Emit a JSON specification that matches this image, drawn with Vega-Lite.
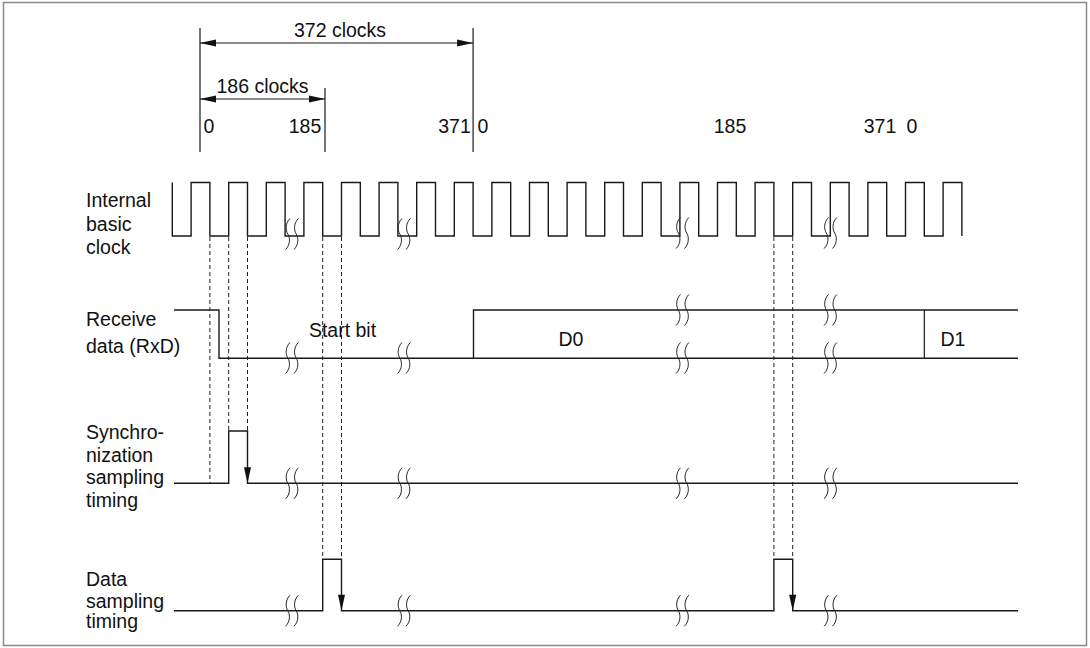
{
  "$schema": "https://vega.github.io/schema/vega-lite/v6.json",
  "width": 1090,
  "height": 648,
  "autosize": {"type": "fit", "contains": "padding"},
  "padding": 0,
  "background": "white",
  "config": {"view": {"stroke": null}},
  "datasets": {
    "frame": [{"x": 3.5, "y": 2.5, "x2": 1086.5, "y2": 645.5}],
    "rules": [
      {"x": 200, "y": 28, "x2": 200, "y2": 152},
      {"x": 325, "y": 88, "x2": 325, "y2": 152},
      {"x": 473.1, "y": 28, "x2": 473.1, "y2": 152},
      {"x": 200, "y": 43, "x2": 473.1, "y2": 43},
      {"x": 200, "y": 99, "x2": 325, "y2": 99},
      {"x": 924.3, "y": 310, "x2": 924.3, "y2": 358.3}
    ],
    "dashed": [
      {"x": 209.9, "y": 237, "x2": 209.9, "y2": 483.3},
      {"x": 228.7, "y": 237, "x2": 228.7, "y2": 431},
      {"x": 247.5, "y": 237, "x2": 247.5, "y2": 431},
      {"x": 322.7, "y": 237, "x2": 322.7, "y2": 559.3},
      {"x": 341.5, "y": 237, "x2": 341.5, "y2": 559.3},
      {"x": 773.9, "y": 237, "x2": 773.9, "y2": 559.3},
      {"x": 792.7, "y": 237, "x2": 792.7, "y2": 559.3}
    ],
    "paths": [
      {"s": "rx1", "i": 0, "x": 174, "y": 310},
      {"s": "rx1", "i": 1, "x": 219, "y": 310},
      {"s": "rx1", "i": 2, "x": 219, "y": 358.3},
      {"s": "rx1", "i": 3, "x": 1018, "y": 358.3},
      {"s": "rx2", "i": 0, "x": 473.5, "y": 358.3},
      {"s": "rx2", "i": 1, "x": 473.5, "y": 310},
      {"s": "rx2", "i": 2, "x": 1018, "y": 310},
      {"s": "sy", "i": 0, "x": 174, "y": 483.3},
      {"s": "sy", "i": 1, "x": 228.7, "y": 483.3},
      {"s": "sy", "i": 2, "x": 228.7, "y": 431},
      {"s": "sy", "i": 3, "x": 247.5, "y": 431},
      {"s": "sy", "i": 4, "x": 247.5, "y": 483.3},
      {"s": "sy", "i": 5, "x": 1018, "y": 483.3},
      {"s": "da", "i": 0, "x": 174, "y": 610.7},
      {"s": "da", "i": 1, "x": 322.7, "y": 610.7},
      {"s": "da", "i": 2, "x": 322.7, "y": 559.3},
      {"s": "da", "i": 3, "x": 341.5, "y": 559.3},
      {"s": "da", "i": 4, "x": 341.5, "y": 610.7},
      {"s": "da", "i": 5, "x": 773.9, "y": 610.7},
      {"s": "da", "i": 6, "x": 773.9, "y": 559.3},
      {"s": "da", "i": 7, "x": 792.7, "y": 559.3},
      {"s": "da", "i": 8, "x": 792.7, "y": 610.7},
      {"s": "da", "i": 9, "x": 1018, "y": 610.7}
    ],
    "clock": [
      {"i": 0, "x": 172.3, "y": 182.5},
      {"i": 1, "x": 172.3, "y": 236},
      {"i": 2, "x": 191.1, "y": 182.5},
      {"i": 3, "x": 209.9, "y": 236},
      {"i": 4, "x": 228.7, "y": 182.5},
      {"i": 5, "x": 247.5, "y": 236},
      {"i": 6, "x": 266.3, "y": 182.5},
      {"i": 7, "x": 285.1, "y": 236},
      {"i": 8, "x": 303.9, "y": 182.5},
      {"i": 9, "x": 322.7, "y": 236},
      {"i": 10, "x": 341.5, "y": 182.5},
      {"i": 11, "x": 360.3, "y": 236},
      {"i": 12, "x": 379.1, "y": 182.5},
      {"i": 13, "x": 397.9, "y": 236},
      {"i": 14, "x": 416.7, "y": 182.5},
      {"i": 15, "x": 435.5, "y": 236},
      {"i": 16, "x": 454.3, "y": 182.5},
      {"i": 17, "x": 473.1, "y": 236},
      {"i": 18, "x": 491.9, "y": 182.5},
      {"i": 19, "x": 510.7, "y": 236},
      {"i": 20, "x": 529.5, "y": 182.5},
      {"i": 21, "x": 548.3, "y": 236},
      {"i": 22, "x": 567.1, "y": 182.5},
      {"i": 23, "x": 585.9, "y": 236},
      {"i": 24, "x": 604.7, "y": 182.5},
      {"i": 25, "x": 623.5, "y": 236},
      {"i": 26, "x": 642.3, "y": 182.5},
      {"i": 27, "x": 661.1, "y": 236},
      {"i": 28, "x": 679.9, "y": 182.5},
      {"i": 29, "x": 698.7, "y": 236},
      {"i": 30, "x": 717.5, "y": 182.5},
      {"i": 31, "x": 736.3, "y": 236},
      {"i": 32, "x": 755.1, "y": 182.5},
      {"i": 33, "x": 773.9, "y": 236},
      {"i": 34, "x": 792.7, "y": 182.5},
      {"i": 35, "x": 811.5, "y": 236},
      {"i": 36, "x": 830.3, "y": 182.5},
      {"i": 37, "x": 849.1, "y": 236},
      {"i": 38, "x": 867.9, "y": 182.5},
      {"i": 39, "x": 886.7, "y": 236},
      {"i": 40, "x": 905.5, "y": 182.5},
      {"i": 41, "x": 924.3, "y": 236},
      {"i": 42, "x": 943.1, "y": 182.5},
      {"i": 43, "x": 961.9, "y": 236}
    ],
    "breaks": [
      {"x": 292, "y": 234},
      {"x": 404, "y": 234},
      {"x": 682.5, "y": 233},
      {"x": 830.5, "y": 233},
      {"x": 292, "y": 358},
      {"x": 404, "y": 358},
      {"x": 682.5, "y": 358},
      {"x": 830.5, "y": 358},
      {"x": 682.5, "y": 310},
      {"x": 830.5, "y": 310},
      {"x": 292, "y": 483.3},
      {"x": 404, "y": 483.3},
      {"x": 682.5, "y": 483.3},
      {"x": 830.5, "y": 483.3},
      {"x": 292, "y": 610.7},
      {"x": 404, "y": 610.7},
      {"x": 682.5, "y": 610.7},
      {"x": 830.5, "y": 610.7}
    ],
    "arrows": [
      {"x": 200, "y": 43, "d": "l"},
      {"x": 473.1, "y": 43, "d": "r"},
      {"x": 200, "y": 99, "d": "l"},
      {"x": 325, "y": 99, "d": "r"},
      {"x": 247.5, "y": 483.3, "d": "d"},
      {"x": 341.5, "y": 610.7, "d": "d"},
      {"x": 792.7, "y": 610.7, "d": "d"}
    ],
    "labels": [
      {"x": 340, "y": 31, "t": "372 clocks"},
      {"x": 262.5, "y": 87, "t": "186 clocks"},
      {"x": 209, "y": 127, "t": "0"},
      {"x": 305, "y": 127, "t": "185"},
      {"x": 454.5, "y": 127, "t": "371"},
      {"x": 483, "y": 127, "t": "0"},
      {"x": 730, "y": 127, "t": "185"},
      {"x": 880, "y": 127, "t": "371"},
      {"x": 912, "y": 127, "t": "0"},
      {"x": 342.5, "y": 331, "t": "Start bit"},
      {"x": 571, "y": 340, "t": "D0"},
      {"x": 953, "y": 340, "t": "D1"}
    ],
    "leftlabels": [
      {"x": 86, "y": 201, "t": "Internal"},
      {"x": 86, "y": 224.5, "t": "basic"},
      {"x": 86, "y": 248, "t": "clock"},
      {"x": 86, "y": 320, "t": "Receive"},
      {"x": 86, "y": 346.5, "t": "data (RxD)"},
      {"x": 86, "y": 433, "t": "Synchro-"},
      {"x": 86, "y": 455.5, "t": "nization"},
      {"x": 86, "y": 478, "t": "sampling"},
      {"x": 86, "y": 500.5, "t": "timing"},
      {"x": 86, "y": 580, "t": "Data"},
      {"x": 86, "y": 601.5, "t": "sampling"},
      {"x": 86, "y": 622, "t": "timing"}
    ]
  },
  "encoding": {
    "x": {"field": "x", "type": "quantitative", "scale": {"domain": [0, 1090], "nice": false, "zero": false}, "axis": null},
    "y": {"field": "y", "type": "quantitative", "scale": {"domain": [0, 648], "reverse": true, "nice": false, "zero": false}, "axis": null}
  },
  "layer": [
    {
      "data": {"name": "frame"},
      "mark": {"type": "rect", "filled": false, "stroke": "#8a8a8a", "strokeWidth": 1.5},
      "encoding": {"x2": {"field": "x2"}, "y2": {"field": "y2"}}
    },
    {
      "data": {"name": "rules"},
      "mark": {"type": "rule", "stroke": "#1a1a1a", "strokeWidth": 1.2},
      "encoding": {"x2": {"field": "x2"}, "y2": {"field": "y2"}}
    },
    {
      "data": {"name": "dashed"},
      "mark": {"type": "rule", "stroke": "#222", "strokeWidth": 1, "strokeDash": [4, 3]},
      "encoding": {"x2": {"field": "x2"}, "y2": {"field": "y2"}}
    },
    {
      "data": {"name": "paths"},
      "mark": {"type": "line", "color": "#1a1a1a", "strokeWidth": 1.4},
      "encoding": {"detail": {"field": "s", "type": "nominal"}, "order": {"field": "i", "type": "quantitative"}}
    },
    {
      "data": {"name": "clock"},
      "mark": {"type": "line", "interpolate": "step-after", "color": "#1a1a1a", "strokeWidth": 1.4},
      "encoding": {"order": {"field": "i", "type": "quantitative"}}
    },
    {
      "data": {"name": "breaks"},
      "mark": {
        "type": "point",
        "shape": "M -0.13 -1 C -0.43 -0.7 -0.43 -0.25 -0.27 0 C -0.11 0.25 -0.11 0.7 -0.41 1 M 0.41 -1 C 0.11 -0.7 0.11 -0.25 0.27 0 C 0.43 0.25 0.43 0.7 0.13 1",
        "size": 961,
        "filled": false,
        "color": "#222",
        "strokeWidth": 1,
        "opacity": 1
      }
    },
    {
      "data": {"name": "arrows"},
      "mark": {"type": "point", "size": 1024, "filled": true, "color": "#111", "strokeWidth": 0, "opacity": 1},
      "encoding": {
        "shape": {
          "field": "d",
          "type": "nominal",
          "scale": {
            "domain": ["l", "r", "d"],
            "range": ["M 0 0 L 1 -0.22 L 1 0.22 Z", "M 0 0 L -1 -0.22 L -1 0.22 Z", "M 0 0 L -0.22 -1 L 0.22 -1 Z"]
          },
          "legend": null
        }
      }
    },
    {
      "data": {"name": "labels"},
      "mark": {"type": "text", "font": "Liberation Sans", "fontSize": 19.5, "align": "center", "baseline": "middle", "color": "#111"},
      "encoding": {"text": {"field": "t", "type": "nominal"}}
    },
    {
      "data": {"name": "leftlabels"},
      "mark": {"type": "text", "font": "Liberation Sans", "fontSize": 19.5, "align": "left", "baseline": "middle", "color": "#111"},
      "encoding": {"text": {"field": "t", "type": "nominal"}}
    }
  ]
}
